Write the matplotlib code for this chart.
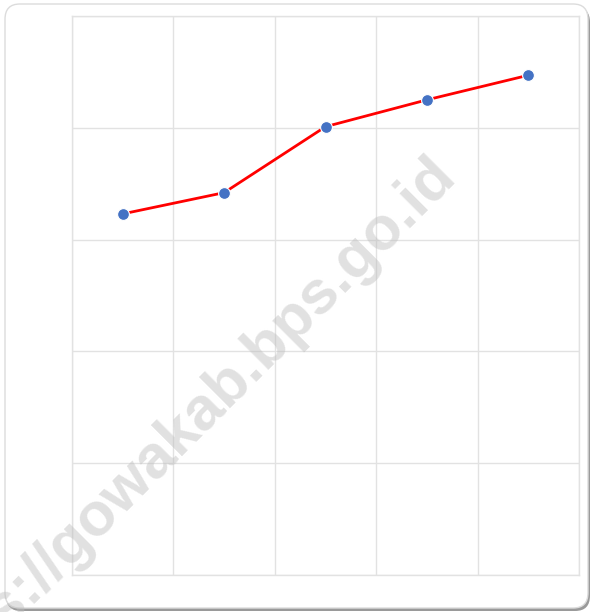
import matplotlib
matplotlib.use("Agg")
import matplotlib.pyplot as plt
from matplotlib.patches import FancyBboxPatch

# data (axis labels are hidden in the reference)
years = ["2018", "2019", "2020", "2021", "2022"]
values = [32.3, 34.2, 40.1, 42.5, 44.7]
y_ticks = [0, 10, 20, 30, 40, 50]

fig = plt.figure(figsize=(5.94, 6.12), dpi=100)
fig.patch.set_facecolor("white")

W, H = 594, 612
# card shadow + card
shadow = FancyBboxPatch((6 / W, 1 / H), 584 / W, 604 / H,
                        boxstyle="round,pad=0,rounding_size=0.025",
                        transform=fig.transFigure, facecolor="#9a9a9a",
                        edgecolor="none", zorder=-2)
card = FancyBboxPatch((5 / W, 4 / H), 583 / W, 604 / H,
                      boxstyle="round,pad=0,rounding_size=0.025",
                      transform=fig.transFigure, facecolor="white",
                      edgecolor="#dcdcdc", linewidth=1.0, zorder=-1)
fig.patches.extend([shadow, card])

ax = fig.add_axes([72 / W, 1 - 575 / H, 507 / W, 559 / H])
ax.set_facecolor("none")
x = range(len(years))
ax.plot(x, values, color="#ff0000", linewidth=2.0, zorder=3)
ax.plot(x, values, "o", color="#4472c4", markersize=8.5,
        markeredgecolor="white", markeredgewidth=0.8, zorder=4)

ax.set_xlim(-0.5, len(years) - 0.5)
ax.set_ylim(y_ticks[0], y_ticks[-1])
ax.set_yticks(y_ticks)
ax.set_xticks([i + 0.5 for i in range(-1, len(years))])
ax.grid(True, color="#e2e2e2", linewidth=1.0)
ax.tick_params(length=0, labelleft=False, labelbottom=False)
for s in ax.spines.values():
    s.set_color("#e2e2e2")
    s.set_linewidth(1.0)

# watermark
fig.text(0.303, 0.294, "https://gowakab.bps.go.id", rotation=45,
         ha="center", va="center", fontsize=44, fontweight="bold",
         family="Liberation Sans", color="#bdbdbd", alpha=0.45, zorder=2)

fig.savefig("out.png", dpi=100)
